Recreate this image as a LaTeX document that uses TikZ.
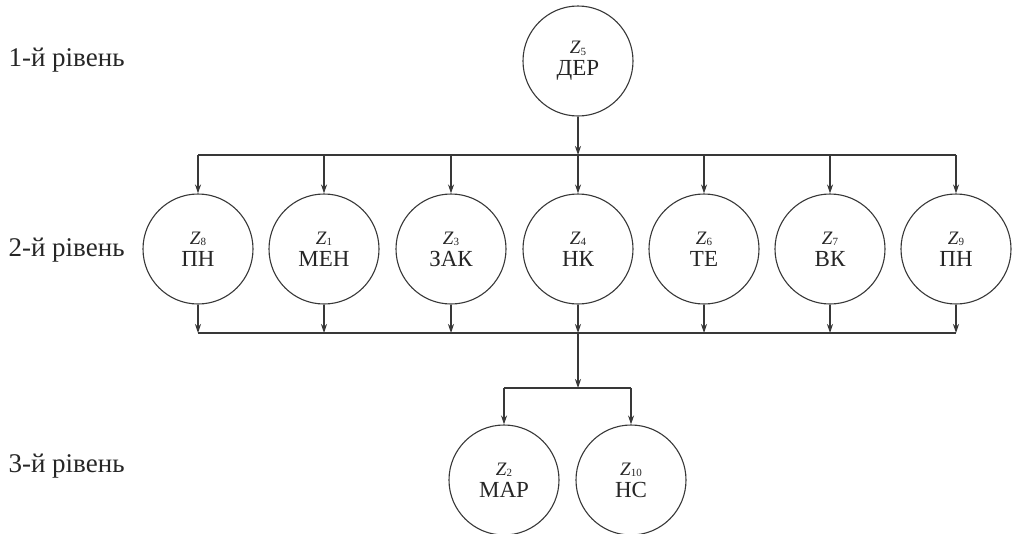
\documentclass[tikz,border=0pt]{standalone}
\usepackage{fontspec}
\setmainfont{Liberation Serif}
\usetikzlibrary{arrows.meta}
\newcommand\elemtext[2]{{\fontsize{19}{19}\selectfont\textit{Z}\raisebox{-0.2ex}{\fontsize{11}{11}\selectfont #1}}\\[-1pt]#2}
\begin{document}
\begin{tikzpicture}[x=1pt,y=-1pt,
  ink/.style={draw=black!78, line width=1.1pt},
  elem/.style={circle, ink, minimum size=110pt, inner sep=0pt, align=center,
    font=\fontsize{23}{23}\selectfont, text=black!85},
  arr/.style={ink, -{Stealth[length=9pt,width=6pt]}},
  bus/.style={ink},
  lvl/.style={anchor=west, font=\fontsize{27}{30}\selectfont, text=black!85}]
\useasboundingbox (0,0) rectangle (1017,533);
% level labels
\node[lvl] (l1) at (5,60) {1-й рівень};
\node[lvl] (l2) at (5,250) {2-й рівень};
\node[lvl] (l3) at (5,466) {3-й рівень};
% level 1
\node[elem] (z5) at (578,61) {\elemtext{5}{ДЕР}};
% level 2
\node[elem] (z8) at (198,249) {\elemtext{8}{ПН}};
\node[elem] (z1) at (324,249) {\elemtext{1}{МЕН}};
\node[elem] (z3) at (451,249) {\elemtext{3}{ЗАК}};
\node[elem] (z4) at (578,249) {\elemtext{4}{НК}};
\node[elem] (z6) at (704,249) {\elemtext{6}{ТЕ}};
\node[elem] (z7) at (830,249) {\elemtext{7}{ВК}};
\node[elem] (z9) at (956,249) {\elemtext{9}{ПН}};
% level 3
\node[elem] (z2) at (504,480) {\elemtext{2}{МАР}};
\node[elem] (z10) at (631,480) {\elemtext{10}{НС}};
% top bus
\coordinate (tb) at (578,155);
\coordinate (tbl) at (198,155);
\coordinate (tbr) at (956,155);
\draw[bus] (tbl) -- (tbr);
\draw[arr] (z5.south) -- (tb);
\foreach \n in {z8,z1,z3,z4,z6,z7,z9}
  \draw[arr] (\n.north |- tb) -- (\n.north);
% bottom bus
\coordinate (bb) at (578,333);
\coordinate (bbl) at (198,333);
\coordinate (bbr) at (956,333);
\draw[bus] (bbl) -- (bbr);
\foreach \n in {z8,z1,z3,z4,z6,z7,z9}
  \draw[arr] (\n.south) -- (\n.south |- bb);
% level 3 branch
\coordinate (sb) at (578,388);
\coordinate (sbl) at (504,388);
\coordinate (sbr) at (631,388);
\draw[arr] (bb) -- (sb);
\draw[bus] (sbl) -- (sbr);
\draw[arr] (sbl) -- (z2.north);
\draw[arr] (sbr) -- (z10.north);
\end{tikzpicture}
\end{document}
